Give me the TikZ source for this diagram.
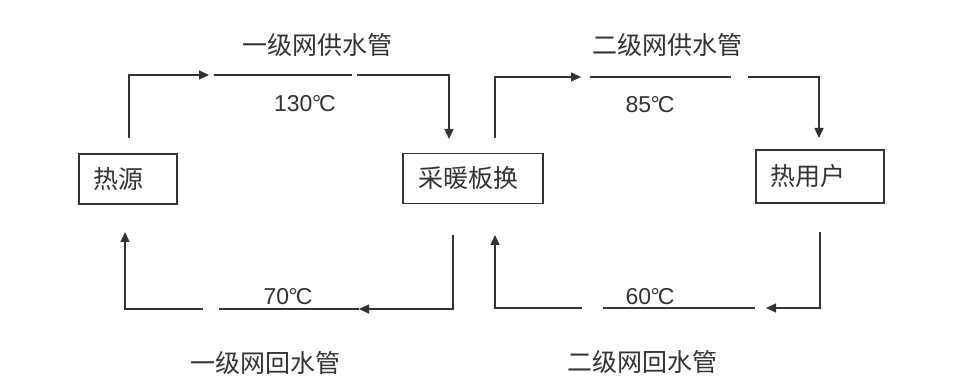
\documentclass[tikz,border=0pt]{standalone}
\usepackage{fontspec}
\setmainfont{Liberation Sans}
\newfontfamily\cjk{Noto Sans CJK SC}
\usetikzlibrary{arrows.meta}
\definecolor{ink}{HTML}{333333}
\tikzset{
  pipe/.style={draw=ink, line width=1.4pt},
  flow/.style={pipe, -{Triangle[length=10pt,width=9pt]}},
  unitbox/.style={draw=ink, line width=1.6pt, minimum height=50pt, inner sep=0pt},
  boxtext/.style={anchor=west, inner sep=0pt, text=ink, font=\cjk\fontsize{25}{25}\selectfont},
  pipelabel/.style={inner sep=0pt, text=ink, font=\cjk\fontsize{25}{25}\selectfont},
  temp/.style={inner sep=0pt, text=ink, font=\fontsize{23}{23}\selectfont},
}
\newcommand{\degC}{\kern-0.5pt°\kern-2pt C}
\begin{document}
\begin{tikzpicture}[x=1pt,y=-1pt]
\useasboundingbox (0,0) rectangle (966,387);
\fill[white] (0,0) rectangle (966,387);
% boxes
\node[unitbox, minimum width=98pt] (src) at (128,179) {};
\node[boxtext] (srct) at (93,179) {热源};
\node[unitbox, minimum width=140pt] (hx) at (473,178.5) {};
\node[boxtext] (hxt) at (418,178.5) {采暖板换};
\node[unitbox, minimum width=128pt, minimum height=53pt] (usr) at (820,176.5) {};
\node[boxtext] (usrt) at (770,176.5) {热用户};
% primary supply
\coordinate (p1a) at (129,138);
\coordinate (p1b) at (129,75);
\coordinate (p1c) at (209,75);
\coordinate (p1d) at (214,75);
\coordinate (p1e) at (352,75);
\coordinate (p1f) at (357,75);
\coordinate (p1g) at (449,75);
\coordinate (p1h) at (449,139);
\draw[flow] (p1a) -- (p1b) -- (p1c);
\draw[pipe] (p1d) -- (p1e);
\draw[flow] (p1f) -- (p1g) -- (p1h);
% secondary supply
\coordinate (s1a) at (495,138);
\coordinate (s1b) at (495,77);
\coordinate (s1c) at (581,77);
\coordinate (s1d) at (590,77);
\coordinate (s1e) at (731,77);
\coordinate (s1f) at (748,77);
\coordinate (s1g) at (819,77);
\coordinate (s1h) at (819,138);
\draw[flow] (s1a) -- (s1b) -- (s1c);
\draw[pipe] (s1d) -- (s1e);
\draw[flow] (s1f) -- (s1g) -- (s1h);
% primary return
\coordinate (p2a) at (453,235);
\coordinate (p2b) at (453,309);
\coordinate (p2c) at (359,309);
\coordinate (p2d) at (219,309);
\coordinate (p2e) at (203,309);
\coordinate (p2f) at (125,309);
\coordinate (p2g) at (125,232);
\draw[flow] (p2a) -- (p2b) -- (p2c);
\draw[pipe] (p2c) -- (p2d);
\draw[flow] (p2e) -- (p2f) -- (p2g);
% secondary return
\coordinate (s2a) at (820,232);
\coordinate (s2b) at (820,308);
\coordinate (s2c) at (766,308);
\coordinate (s2d) at (755,308);
\coordinate (s2e) at (603,308);
\coordinate (s2f) at (582,308);
\coordinate (s2g) at (495,308);
\coordinate (s2h) at (495,235);
\draw[flow] (s2a) -- (s2b) -- (s2c);
\draw[pipe] (s2d) -- (s2e);
\draw[flow] (s2f) -- (s2g) -- (s2h);
% labels
\node[pipelabel] (l1) at (317,45) {一级网供水管};
\node[pipelabel] (l2) at (667,45) {二级网供水管};
\node[pipelabel] (l3) at (265,363) {一级网回水管};
\node[pipelabel] (l4) at (642,362) {二级网回水管};
\node[temp] (t1) at (305,104) {130\degC};
\node[temp] (t2) at (650,105) {85\degC};
\node[temp] (t3) at (288,297) {70\degC};
\node[temp] (t4) at (650,297) {60\degC};
\end{tikzpicture}
\end{document}
